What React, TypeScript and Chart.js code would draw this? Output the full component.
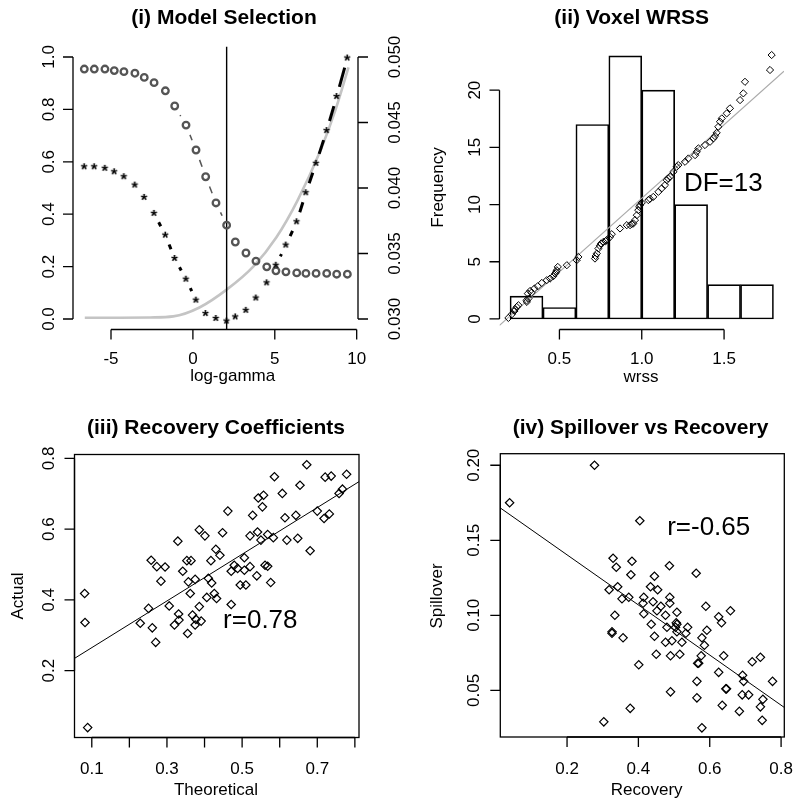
import React, { useEffect, useRef } from "react";
import { Chart, registerables } from "chart.js";

Chart.register(...registerables);

const FONT = '"Liberation Sans", Arial, Helvetica, sans-serif';
const TICK = 10;

// ---------- Panel (i) Model Selection ----------
const logGamma = [-6.63, -6.02, -5.37, -4.8, -4.21, -3.54, -2.97, -2.37, -1.68, -1.11, -0.42, 0.19, 0.78, 1.41, 2.06, 2.59, 3.24, 3.85, 4.51, 5.07, 5.68, 6.34, 6.9, 7.52, 8.17, 8.78, 9.43];
const modelFraction = [0.954, 0.954, 0.954, 0.948, 0.944, 0.938, 0.922, 0.902, 0.871, 0.813, 0.74, 0.645, 0.543, 0.443, 0.358, 0.294, 0.252, 0.221, 0.199, 0.184, 0.18, 0.176, 0.174, 0.174, 0.174, 0.171, 0.171];
const selectionCriterion = [0.04162, 0.04162, 0.0415, 0.04124, 0.04086, 0.04022, 0.03928, 0.03806, 0.0364, 0.03462, 0.03304, 0.03144, 0.03042, 0.03004, 0.02984, 0.03016, 0.03066, 0.0316, 0.03276, 0.0341, 0.03564, 0.03742, 0.03964, 0.04188, 0.04438, 0.04698, 0.04992];
const smoothLogGamma = [-6.6, -4.5, -2.6, -1.2, 0.4, 2.1, 3.7, 5.1, 6.4, 7.8, 8.7, 9.5];
const smoothCurve = [0.005, 0.005, 0.006, 0.01, 0.044, 0.114, 0.201, 0.312, 0.454, 0.645, 0.797, 0.96];
const chosenLogGamma = 2.06;
const fracTicks = [0, 0.2, 0.4, 0.6, 0.8, 1.0];
const fracLabels = ["0.0", "0.2", "0.4", "0.6", "0.8", "1.0"];
const critTicks = [0.03, 0.035, 0.04, 0.045, 0.05];
const critLabels = ["0.030", "0.035", "0.040", "0.045", "0.050"];
const logGammaTicks = [-5, 0, 5, 10];
const logGammaLabels = ["-5", "0", "5", "10"];

// ---------- Panel (ii) Voxel WRSS ----------
const wrssBreaks = [0.2, 0.4, 0.6, 0.8, 1.0, 1.2, 1.4, 1.6, 1.8];
const wrssCounts = [2, 1, 17, 23, 20, 10, 3, 3];
const qqX = [0.19, 0.211, 0.227, 0.23, 0.241, 0.251, 0.302, 0.3, 0.312, 0.308, 0.322, 0.33, 0.348, 0.368, 0.393, 0.423, 0.443, 0.463, 0.474, 0.48, 0.484, 0.49, 0.545, 0.605, 0.615, 0.716, 0.72, 0.727, 0.737, 0.745, 0.753, 0.767, 0.78, 0.787, 0.808, 0.818, 0.868, 0.909, 0.929, 0.94, 0.949, 0.959, 0.97, 0.979, 0.985, 0.99, 1.0, 1.04, 1.05, 1.07, 1.101, 1.121, 1.141, 1.152, 1.16, 1.172, 1.192, 1.212, 1.222, 1.263, 1.283, 1.324, 1.334, 1.344, 1.384, 1.415, 1.435, 1.445, 1.455, 1.465, 1.475, 1.486, 1.516, 1.536, 1.597, 1.617, 1.627, 1.779, 1.789];
const qqY = [0.09, 0.41, 0.7, 0.85, 1.05, 1.2, 1.49, 1.62, 1.78, 2.22, 2.45, 2.3, 2.66, 2.86, 3.15, 3.39, 3.53, 3.74, 3.97, 4.1, 4.26, 4.55, 4.7, 5.14, 5.42, 5.28, 5.5, 5.72, 6.16, 6.4, 6.6, 6.74, 6.8, 6.89, 7.17, 7.41, 7.91, 8.2, 8.2, 8.3, 8.35, 8.64, 9.07, 9.51, 9.8, 9.95, 10.15, 10.39, 10.5, 10.67, 11.11, 11.41, 11.7, 12.13, 12.3, 12.42, 12.86, 13.3, 13.45, 13.74, 14.03, 14.32, 14.61, 14.91, 15.2, 15.49, 15.78, 15.98, 16.27, 16.8, 17.24, 17.53, 17.97, 18.41, 19.13, 19.72, 20.73, 21.76, 23.07];
const qqLineIntercept = -2.31;
const qqLineSlope = 12.86;
const freqTicks = [0, 5, 10, 15, 20];
const freqLabels = ["0", "5", "10", "15", "20"];
const wrssTicks = [0.5, 1.0, 1.5];
const wrssLabels = ["0.5", "1.0", "1.5"];

// ---------- Panel (iii) Recovery Coefficients ----------
const theoretical = [0.081, 0.082, 0.089, 0.229, 0.251, 0.258, 0.261, 0.27, 0.273, 0.284, 0.295, 0.306, 0.32, 0.329, 0.331, 0.332, 0.342, 0.353, 0.355, 0.357, 0.362, 0.364, 0.368, 0.375, 0.375, 0.377, 0.386, 0.386, 0.391, 0.401, 0.406, 0.41, 0.417, 0.419, 0.426, 0.43, 0.432, 0.441, 0.448, 0.462, 0.471, 0.471, 0.479, 0.488, 0.495, 0.506, 0.506, 0.51, 0.521, 0.521, 0.528, 0.539, 0.541, 0.543, 0.55, 0.554, 0.557, 0.561, 0.568, 0.568, 0.576, 0.583, 0.586, 0.607, 0.614, 0.619, 0.643, 0.648, 0.654, 0.672, 0.681, 0.7, 0.718, 0.721, 0.732, 0.737, 0.758, 0.767, 0.778];
const actual = [0.418, 0.336, 0.039, 0.334, 0.376, 0.512, 0.321, 0.28, 0.494, 0.453, 0.493, 0.383, 0.329, 0.566, 0.36, 0.343, 0.481, 0.511, 0.305, 0.451, 0.418, 0.511, 0.357, 0.458, 0.329, 0.345, 0.381, 0.598, 0.34, 0.581, 0.407, 0.461, 0.511, 0.448, 0.418, 0.543, 0.404, 0.526, 0.59, 0.651, 0.387, 0.481, 0.498, 0.489, 0.442, 0.519, 0.484, 0.442, 0.494, 0.581, 0.639, 0.468, 0.592, 0.688, 0.569, 0.663, 0.696, 0.498, 0.495, 0.585, 0.449, 0.576, 0.748, 0.701, 0.632, 0.569, 0.639, 0.574, 0.724, 0.782, 0.539, 0.651, 0.63, 0.747, 0.643, 0.75, 0.701, 0.713, 0.755];
const recFitIntercept = 0.199;
const recFitSlope = 0.66;
const theoTicks = [0.1, 0.2, 0.3, 0.4, 0.5, 0.6, 0.7, 0.8];
const theoLabels = ["0.1", "", "0.3", "", "0.5", "", "0.7", ""];
const actualTicks = [0.2, 0.4, 0.6, 0.8];
const actualLabels = ["0.2", "0.4", "0.6", "0.8"];

// ---------- Panel (iv) Spillover vs Recovery ----------
const recovery = [0.039, 0.277, 0.303, 0.318, 0.326, 0.326, 0.329, 0.334, 0.338, 0.342, 0.354, 0.357, 0.373, 0.377, 0.379, 0.382, 0.401, 0.404, 0.413, 0.415, 0.415, 0.434, 0.436, 0.441, 0.445, 0.445, 0.45, 0.452, 0.454, 0.463, 0.476, 0.476, 0.48, 0.487, 0.488, 0.488, 0.49, 0.49, 0.494, 0.504, 0.506, 0.508, 0.508, 0.508, 0.516, 0.522, 0.533, 0.538, 0.562, 0.564, 0.564, 0.566, 0.569, 0.576, 0.578, 0.578, 0.585, 0.589, 0.592, 0.625, 0.625, 0.633, 0.635, 0.639, 0.645, 0.647, 0.658, 0.683, 0.691, 0.692, 0.695, 0.709, 0.719, 0.742, 0.742, 0.747, 0.749, 0.776];
const spillover = [0.175, 0.2, 0.029, 0.117, 0.089, 0.088, 0.138, 0.1, 0.132, 0.119, 0.111, 0.085, 0.112, 0.038, 0.127, 0.136, 0.067, 0.163, 0.108, 0.112, 0.101, 0.119, 0.094, 0.109, 0.086, 0.126, 0.074, 0.103, 0.117, 0.106, 0.1, 0.082, 0.092, 0.133, 0.112, 0.108, 0.073, 0.049, 0.083, 0.092, 0.095, 0.102, 0.094, 0.089, 0.074, 0.082, 0.088, 0.092, 0.128, 0.045, 0.056, 0.068, 0.068, 0.073, 0.025, 0.085, 0.08, 0.106, 0.09, 0.099, 0.062, 0.095, 0.04, 0.073, 0.051, 0.051, 0.103, 0.036, 0.047, 0.06, 0.056, 0.047, 0.069, 0.039, 0.072, 0.03, 0.044, 0.056];
const spillFitIntercept = 0.1737;
const spillFitSlope = -0.167;
const recTicks = [0.2, 0.4, 0.6, 0.8];
const recLabels = ["0.2", "0.4", "0.6", "0.8"];
const spillTicks = [0.05, 0.1, 0.15, 0.2];
const spillLabels = ["0.05", "0.10", "0.15", "0.20"];

// ---------- helpers ----------
type AxisSpec = { scale: string; side: "bottom" | "left" | "right"; ticks: number[]; labels: string[]; labelPos: number };
type TextSpec = { text: string; x: number; y: number; size: number; bold?: boolean; rotate?: boolean; baseline?: CanvasTextBaseline };
type SegSpec = { dataset: number; gap: number; color: string; width: number };
type RCfg = { axes: AxisSpec[]; texts: TextSpec[]; box?: boolean; segs?: SegSpec[] };

function rPlugin(cfg: RCfg) {
  return {
    id: "rstyle",
    afterDatasetsDraw(chart: any) {
      const ctx = chart.ctx as CanvasRenderingContext2D;
      for (const s of cfg.segs || []) {
        const pts = chart.getDatasetMeta(s.dataset).data;
        ctx.save();
        ctx.strokeStyle = s.color;
        ctx.lineWidth = s.width;
        ctx.lineCap = "butt";
        for (let k = 0; k < pts.length - 1; k++) {
          const a = pts[k];
          const b = pts[k + 1];
          const dx = b.x - a.x;
          const dy = b.y - a.y;
          const L = Math.hypot(dx, dy);
          if (L <= 2 * s.gap) continue;
          const ux = dx / L;
          const uy = dy / L;
          ctx.beginPath();
          ctx.moveTo(a.x + ux * s.gap, a.y + uy * s.gap);
          ctx.lineTo(b.x - ux * s.gap, b.y - uy * s.gap);
          ctx.stroke();
        }
        ctx.restore();
      }
    },
    afterDraw(chart: any) {
      const ctx = chart.ctx as CanvasRenderingContext2D;
      const area = chart.chartArea;
      ctx.save();
      ctx.strokeStyle = "#000";
      ctx.fillStyle = "#000";
      ctx.lineWidth = 1.3;
      if (cfg.box) ctx.strokeRect(area.left, area.top, area.right - area.left, area.bottom - area.top);
      for (const ax of cfg.axes) {
        const sc = chart.scales[ax.scale];
        const pos = ax.ticks.map((v) => sc.getPixelForValue(v));
        ctx.font = `17px ${FONT}`;
        ctx.beginPath();
        if (ax.side === "bottom") {
          const y = area.bottom;
          ctx.moveTo(pos[0], y);
          ctx.lineTo(pos[pos.length - 1], y);
          pos.forEach((p) => {
            ctx.moveTo(p, y);
            ctx.lineTo(p, y + TICK);
          });
          ctx.stroke();
          ctx.textAlign = "center";
          ctx.textBaseline = "alphabetic";
          pos.forEach((p, i) => {
            if (ax.labels[i]) ctx.fillText(ax.labels[i], p, ax.labelPos);
          });
        } else {
          const x = ax.side === "left" ? area.left : area.right;
          const dir = ax.side === "left" ? -1 : 1;
          ctx.moveTo(x, pos[0]);
          ctx.lineTo(x, pos[pos.length - 1]);
          pos.forEach((p) => {
            ctx.moveTo(x, p);
            ctx.lineTo(x + dir * TICK, p);
          });
          ctx.stroke();
          pos.forEach((p, i) => {
            if (!ax.labels[i]) return;
            ctx.save();
            ctx.translate(ax.labelPos, p);
            ctx.rotate(-Math.PI / 2);
            ctx.textAlign = "center";
            ctx.textBaseline = "alphabetic";
            ctx.fillText(ax.labels[i], 0, 0);
            ctx.restore();
          });
        }
      }
      for (const t of cfg.texts) {
        ctx.save();
        ctx.font = `${t.bold ? "bold " : ""}${t.size}px ${FONT}`;
        ctx.textAlign = "center";
        ctx.textBaseline = t.baseline || "middle";
        ctx.translate(t.x, t.y);
        if (t.rotate) ctx.rotate(-Math.PI / 2);
        ctx.fillText(t.text, 0, 0);
        ctx.restore();
      }
      ctx.restore();
    },
  };
}

function makeStar(): HTMLCanvasElement {
  const c = document.createElement("canvas");
  c.width = 15;
  c.height = 15;
  const g = c.getContext("2d")!;
  g.fillStyle = "#000";
  g.font = `bold 17px ${FONT}`;
  const m = g.measureText("*");
  const w = m.actualBoundingBoxLeft + m.actualBoundingBoxRight;
  const h = m.actualBoundingBoxAscent + m.actualBoundingBoxDescent;
  g.fillText("*", 7.5 - w / 2 + m.actualBoundingBoxLeft, 7.5 - h / 2 + m.actualBoundingBoxAscent);
  return c;
}

function lin(min: number, max: number, extra: any = {}) {
  return { type: "linear", display: false, min, max, offset: false, ...extra };
}

function baseOptions(padding: any, scales: any) {
  return {
    responsive: false,
    maintainAspectRatio: false,
    animation: false,
    devicePixelRatio: 1,
    events: [],
    layout: { padding },
    plugins: { legend: { display: false }, tooltip: { enabled: false }, title: { display: false } },
    scales,
  };
}

const diamond = (r: number) => ({
  pointStyle: "rectRot",
  pointRadius: r,
  pointBorderWidth: 1.2,
  pointBorderColor: "#000",
  pointBackgroundColor: "rgba(0,0,0,0)",
});

// ---------- chart builders ----------
function buildModelSelection(): any {
  const X = [-7.32, 10.08];
  const Y = [-0.04, 1.04];
  return {
    type: "scatter",
    data: {
      datasets: [
        {
          type: "scatter",
          data: logGamma.map((x, i) => ({ x, y: selectionCriterion[i] })),
          yAxisID: "y2",
          pointStyle: makeStar(),
          pointRadius: 5,
        },
        {
          type: "scatter",
          data: logGamma.map((x, i) => ({ x, y: modelFraction[i] })),
          yAxisID: "y",
          pointStyle: "circle",
          pointRadius: 3.3,
          pointBorderWidth: 2.3,
          pointBorderColor: "#555",
          pointBackgroundColor: "rgba(0,0,0,0)",
        },
        {
          type: "line",
          data: [
            { x: chosenLogGamma, y: Y[0] },
            { x: chosenLogGamma, y: Y[1] },
          ],
          yAxisID: "y",
          borderColor: "#000",
          borderWidth: 1.4,
          pointRadius: 0,
        },
        {
          type: "line",
          data: smoothLogGamma.map((x, i) => ({ x, y: smoothCurve[i] })),
          yAxisID: "y",
          borderColor: "#c4c4c4",
          borderWidth: 2.6,
          pointRadius: 0,
          cubicInterpolationMode: "monotone",
        },
      ],
    },
    options: baseOptions(
      { left: 73, top: 46.5, right: 42, bottom: 75.5 },
      { x: lin(X[0], X[1]), y: lin(Y[0], Y[1]), y2: lin(0.0292, 0.0508, { position: "right" }) }
    ),
    plugins: [
      rPlugin({
        segs: [
          { dataset: 0, gap: 10, color: "#000", width: 3 },
          { dataset: 1, gap: 10.5, color: "#555", width: 1.5 },
        ],
        axes: [
          { scale: "x", side: "bottom", ticks: logGammaTicks, labels: logGammaLabels, labelPos: 363.5 },
          { scale: "y", side: "left", ticks: fracTicks, labels: fracLabels, labelPos: 53.5 },
          { scale: "y2", side: "right", ticks: critTicks, labels: critLabels, labelPos: 399.5 },
        ],
        texts: [
          { text: "(i) Model Selection", x: 224, y: 18.5, size: 21, bold: true },
          { text: "log-gamma", x: 232.7, y: 381, size: 17, baseline: "alphabetic" },
        ],
      }),
    ],
  };
}

function buildVoxelWrss(): any {
  const X = [0.136, 1.864];
  const Y = [-0.92, 23.92];
  return {
    type: "scatter",
    data: {
      datasets: [
        { type: "scatter", data: qqX.map((x, i) => ({ x, y: qqY[i] })), ...diamond(3.6), pointBorderWidth: 1 },
        {
          type: "line",
          data: X.map((x) => ({ x, y: qqLineIntercept + qqLineSlope * x })),
          borderColor: "#aaa",
          borderWidth: 1.2,
          pointRadius: 0,
        },
        {
          type: "bar",
          data: wrssCounts.map((c, i) => ({ x: (wrssBreaks[i] + wrssBreaks[i + 1]) / 2, y: c })),
          backgroundColor: "rgba(0,0,0,0)",
          borderColor: "#000",
          borderWidth: 1,
          borderSkipped: false,
          barPercentage: 1,
          categoryPercentage: 1,
          grouped: false,
        },
      ],
    },
    options: baseOptions(
      { left: 99.5, top: 45.3, right: 16, bottom: 75.5 },
      {
        x: lin(X[0], X[1], {
          afterBuildTicks: (s: any) => {
            s.ticks = [{ value: s.min }, { value: s.max }];
          },
        }),
        y: lin(Y[0], Y[1]),
      }
    ),
    plugins: [
      rPlugin({
        axes: [
          { scale: "x", side: "bottom", ticks: wrssTicks, labels: wrssLabels, labelPos: 363.5 },
          { scale: "y", side: "left", ticks: freqTicks, labels: freqLabels, labelPos: 80 },
        ],
        texts: [
          { text: "(ii) Voxel WRSS", x: 231.7, y: 18.5, size: 21, bold: true },
          { text: "wrss", x: 241, y: 381.5, size: 17, baseline: "alphabetic" },
          { text: "Frequency", x: 43, y: 187.5, size: 17, rotate: true, baseline: "alphabetic" },
          { text: "DF=13", x: 323.3, y: 184, size: 26 },
        ],
      }),
    ],
  };
}

function buildRecovery(): any {
  const X = [0.054, 0.811];
  const Y = [0.011, 0.811];
  return {
    type: "scatter",
    data: {
      datasets: [
        { type: "scatter", data: theoretical.map((x, i) => ({ x, y: actual[i] })), ...diamond(4.2) },
        {
          type: "line",
          data: X.map((x) => ({ x, y: recFitIntercept + recFitSlope * x })),
          borderColor: "#000",
          borderWidth: 1,
          pointRadius: 0,
        },
      ],
    },
    options: baseOptions({ left: 74.5, top: 49.5, right: 41, bottom: 72.5 }, { x: lin(X[0], X[1]), y: lin(Y[0], Y[1]) }),
    plugins: [
      rPlugin({
        box: true,
        axes: [
          { scale: "x", side: "bottom", ticks: theoTicks, labels: theoLabels, labelPos: 368.5 },
          { scale: "y", side: "left", ticks: actualTicks, labels: actualLabels, labelPos: 53.5 },
        ],
        texts: [
          { text: "(iii) Recovery Coefficients", x: 216, y: 23.5, size: 21, bold: true },
          { text: "Theoretical", x: 216, y: 390, size: 17, baseline: "alphabetic" },
          { text: "Actual", x: 23.3, y: 191, size: 17, rotate: true, baseline: "alphabetic" },
          { text: "r=0.78", x: 260.3, y: 216, size: 26 },
        ],
      }),
    ],
  };
}

function buildSpillover(): any {
  const X = [0.0129, 0.809];
  const Y = [0.0189, 0.2077];
  return {
    type: "scatter",
    data: {
      datasets: [
        { type: "scatter", data: recovery.map((x, i) => ({ x, y: spillover[i] })), ...diamond(4.2) },
        {
          type: "line",
          data: X.map((x) => ({ x, y: spillFitIntercept + spillFitSlope * x })),
          borderColor: "#000",
          borderWidth: 1,
          pointRadius: 0,
        },
      ],
    },
    options: baseOptions({ left: 100.3, top: 48.7, right: 15.7, bottom: 73 }, { x: lin(X[0], X[1]), y: lin(Y[0], Y[1]) }),
    plugins: [
      rPlugin({
        box: true,
        axes: [
          { scale: "x", side: "bottom", ticks: recTicks, labels: recLabels, labelPos: 368.5 },
          { scale: "y", side: "left", ticks: spillTicks, labels: spillLabels, labelPos: 78.5 },
        ],
        texts: [
          { text: "(iv) Spillover vs Recovery", x: 240.5, y: 23.5, size: 21, bold: true },
          { text: "Recovery", x: 246.7, y: 390, size: 17, baseline: "alphabetic" },
          { text: "Spillover", x: 41.5, y: 191, size: 17, rotate: true, baseline: "alphabetic" },
          { text: "r=-0.65", x: 308.7, y: 122.5, size: 26 },
        ],
      }),
    ],
  };
}

function Panel({ left, top, build }: { left: number; top: number; build: () => any }) {
  const ref = useRef<HTMLCanvasElement>(null);
  useEffect(() => {
    const chart = new Chart(ref.current as HTMLCanvasElement, build());
    return () => chart.destroy();
  }, []);
  return (
    <canvas
      ref={ref}
      width={400}
      height={405}
      style={{ position: "absolute", left, top, width: 400, height: 405, display: "block" }}
    />
  );
}

export default function App() {
  return (
    <div style={{ position: "absolute", left: 0, top: 0, width: 800, height: 810, background: "#fff" }}>
      <Panel left={0} top={0} build={buildModelSelection} />
      <Panel left={400} top={0} build={buildVoxelWrss} />
      <Panel left={0} top={405} build={buildRecovery} />
      <Panel left={400} top={405} build={buildSpillover} />
    </div>
  );
}
